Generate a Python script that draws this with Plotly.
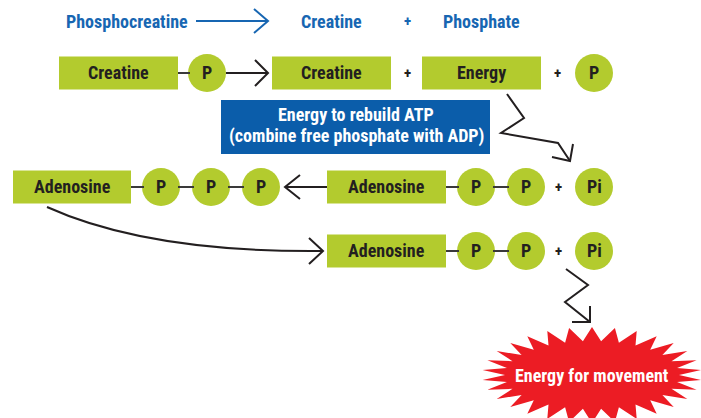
import numpy as np
import plotly.graph_objects as go

# ---------------- content ----------------
top_terms = ["Phosphocreatine", "Creatine", "+", "Phosphate"]
row1_terms = ["Creatine", "P", "Creatine", "+", "Energy", "+", "P"]
atp_terms = ["Adenosine", "P", "P", "P"]
adp_terms = ["Adenosine", "P", "P", "+", "Pi"]
rebuild_lines = ["Energy to rebuild ATP", "(combine free phosphate with ADP)"]
burst_label = "Energy for movement"

# ---------------- styles ----------------
W, H = 701, 418
GREEN = "#B3CB2E"
BLUE_TXT = "#1766B2"
BLUE_BOX = "#0B5DAA"
RED = "#EC1C24"
DARK = "#231F20"
FONT = "Roboto Condensed, Liberation Sans Narrow, Arial Narrow, DejaVu Sans Condensed, sans-serif"
FS = 18
PLUS = 15

shapes = []
annotations = []


def text(x, y, s, color=DARK, size=FS):
    annotations.append(dict(x=x, y=y, text="<b>" + s + "</b>", showarrow=False,
                            xref="x", yref="y", xanchor="center", yanchor="middle",
                            font=dict(family=FONT, size=size, color=color)))


def box(x0, x1, yc, label, h=33):
    shapes.append(dict(type="rect", x0=x0, x1=x1, y0=yc - h / 2, y1=yc + h / 2,
                       fillcolor=GREEN, line=dict(width=0), layer="below"))
    text((x0 + x1) / 2, yc - 0.5, label)


def circ(cx, cy, label, r=19):
    shapes.append(dict(type="circle", x0=cx - r, x1=cx + r, y0=cy - r, y1=cy + r,
                       fillcolor=GREEN, line=dict(width=0), layer="below"))
    text(cx, cy - 0.5, label)


def seg(pts, color=DARK, width=2):
    d = "M " + " L ".join(f"{x} {y}" for x, y in pts)
    shapes.append(dict(type="path", path=d, line=dict(color=color, width=width),
                       fillcolor="rgba(0,0,0,0)"))


def conn(x0, x1, y):
    seg([(x0, y), (x1, y)], color="#3a3a3a", width=2)


# ---------------- top text row ----------------
Y0 = 21
text(127, Y0, top_terms[0], BLUE_TXT)
seg([(196, Y0), (268, Y0)], BLUE_TXT)
seg([(254, Y0 - 12), (268, Y0), (254, Y0 + 12)], BLUE_TXT)
text(331, Y0, top_terms[1], BLUE_TXT)
text(407, Y0, top_terms[2], BLUE_TXT, size=PLUS)
text(481, Y0, top_terms[3], BLUE_TXT)

# ---------------- row 1 ----------------
Y1 = 73
box(59, 178, Y1, row1_terms[0])
conn(178, 190, Y1)
circ(207, Y1, row1_terms[1])
seg([(226, Y1), (268, Y1)])
seg([(255, Y1 - 13), (268, Y1), (255, Y1 + 13)])
box(272, 391, Y1, row1_terms[2])
text(407, Y1, row1_terms[3], size=PLUS)
box(422, 541, Y1, row1_terms[4])
text(557, Y1, row1_terms[5], size=PLUS)
circ(594, Y1, row1_terms[6])

# ---------------- rebuild box ----------------
shapes.append(dict(type="rect", x0=221, x1=490, y0=100, y1=154,
                   fillcolor=BLUE_BOX, line=dict(width=0), layer="below"))
text(356, 114, rebuild_lines[0], "white")
text(356, 136, rebuild_lines[1], "white")

# zigzag arrow to Pi
seg([(507, 94), (524, 118), (501, 133), (558, 143), (570, 161)])
seg([(552, 157), (570, 161), (573, 144)])

# ---------------- ATP row ----------------
Y2 = 187
box(13, 131, Y2, atp_terms[0])
conn(131, 144, Y2)
circ(161, Y2, atp_terms[1])
conn(178, 194, Y2)
circ(211, Y2, atp_terms[2])
conn(228, 244, Y2)
circ(261, Y2, atp_terms[3])
seg([(327, Y2), (285, Y2)])
seg([(300, Y2 - 12), (285, Y2), (300, Y2 + 12)])

# ---------------- ADP rows ----------------
for yc in (Y2, 251):
    box(327, 446, yc, adp_terms[0])
    conn(446, 459, yc)
    circ(476, yc, adp_terms[1])
    conn(493, 509, yc)
    circ(526, yc, adp_terms[2])
    text(558, yc, adp_terms[3], size=PLUS)
    circ(594, yc, adp_terms[4])

# curved arrow from ATP to ADP
shapes.append(dict(type="path", path="M 47 207 C 120 240, 220 252, 323 251",
                   line=dict(color=DARK, width=2), fillcolor="rgba(0,0,0,0)"))
seg([(309, 238), (323, 251), (309, 264)])

# zigzag down to burst
seg([(566, 269), (588, 285), (565, 302), (590, 322)])
seg([(572, 322), (590, 322), (590, 306)])

# ---------------- burst ----------------
cx, cy = 592, 375
n = 30
ang = np.linspace(0, 2 * np.pi, 2 * n, endpoint=False) + np.pi / 2
rx = np.where(np.arange(2 * n) % 2 == 0, 110, 87)
ry = np.where(np.arange(2 * n) % 2 == 0, 48, 34)
px = cx + rx * np.cos(ang)
py = cy - ry * np.sin(ang)
path = "M " + " L ".join(f"{a:.1f} {b:.1f}" for a, b in zip(px, py)) + " Z"
shapes.append(dict(type="path", path=path, fillcolor=RED, line=dict(width=0), layer="below"))
text(cx, cy, burst_label, "white")

fig = go.Figure()
fig.update_layout(
    width=W, height=H, margin=dict(l=0, r=0, t=0, b=0),
    paper_bgcolor="white", plot_bgcolor="white",
    xaxis=dict(range=[0, W], visible=False, fixedrange=True),
    yaxis=dict(range=[H, 0], visible=False, fixedrange=True),
    shapes=shapes, annotations=annotations, showlegend=False,
)
fig.write_html("out.html", config=dict(displayModeBar=False),
               post_script="document.body.style.margin='0';document.body.style.overflow='hidden';")
